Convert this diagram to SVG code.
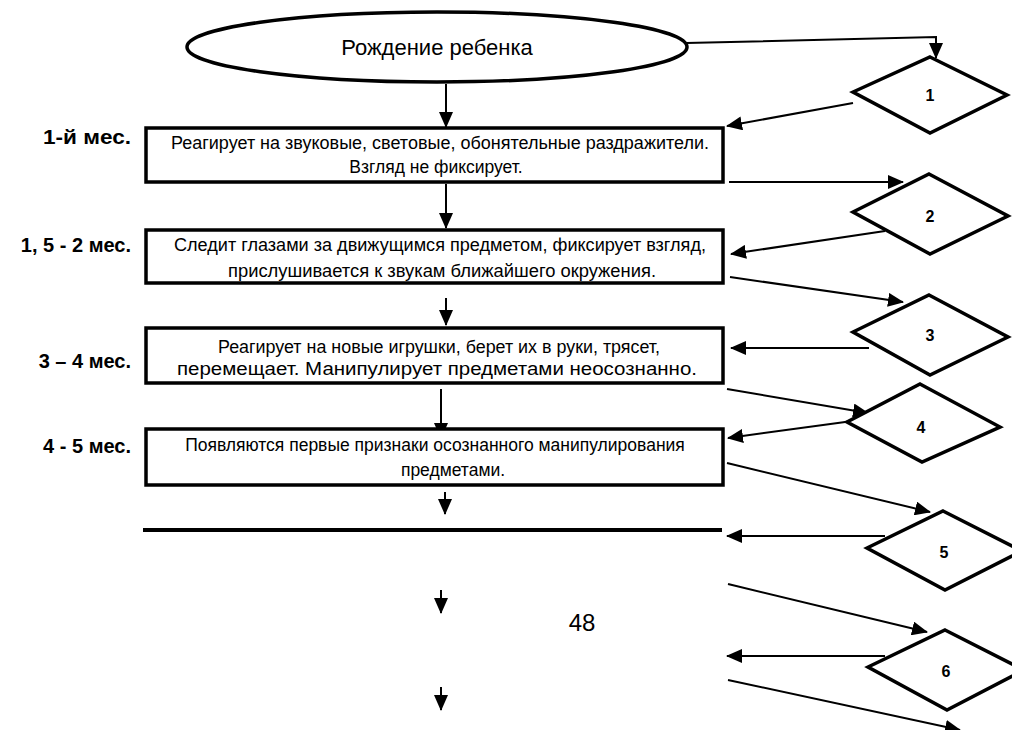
<svg xmlns="http://www.w3.org/2000/svg" width="1012" height="730" viewBox="0 0 1012 730">
  <defs>
    <marker id="ah" markerUnits="userSpaceOnUse" markerWidth="16" markerHeight="14" refX="15" refY="7" orient="auto">
      <path d="M0,0 L16,7 L0,14 Z" fill="#000"/>
    </marker>
    <style>
      .shape { fill: #fff; stroke: #000; stroke-width: 3.5; }
      .conn { fill: none; stroke: #000; stroke-width: 2; marker-end: url(#ah); }
      .txt { font-family: "Liberation Sans", Arial, sans-serif; font-size: 17.5px; fill: #000; text-anchor: middle; }
      .title { font-family: "Liberation Sans", Arial, sans-serif; font-size: 22px; fill: #000; text-anchor: middle; }
      .age { font-family: "Liberation Sans", Arial, sans-serif; font-size: 20px; font-weight: bold; fill: #000; text-anchor: end; }
      .num { font-family: "Liberation Sans", Arial, sans-serif; font-size: 16px; font-weight: bold; fill: #000; text-anchor: middle; }
    </style>
  </defs>
  <rect width="1012" height="730" fill="#fff"/>

  <!-- connectors -->
  <g id="connectors">
    <!-- main vertical flow -->
    <line class="conn" x1="446" y1="84" x2="446" y2="127"/>
    <line class="conn" x1="446" y1="184" x2="446" y2="228"/>
    <line class="conn" x1="446" y1="298" x2="446" y2="325"/>
    <line class="conn" x1="441" y1="389" x2="441" y2="438"/>
    <line class="conn" x1="445" y1="492" x2="445" y2="514"/>
    <line class="conn" x1="441" y1="590" x2="441" y2="613"/>
    <line class="conn" x1="441" y1="687" x2="441" y2="710"/>
    <!-- side loop -->
    <polyline class="conn" points="686,43 936,37 936,58"/>
    <line class="conn" x1="853" y1="103" x2="727" y2="126"/>
    <line class="conn" x1="729" y1="182" x2="903" y2="182"/>
    <line class="conn" x1="885" y1="231" x2="731" y2="254"/>
    <line class="conn" x1="730" y1="277" x2="903" y2="302"/>
    <line class="conn" x1="869" y1="348" x2="731" y2="348"/>
    <line class="conn" x1="727" y1="389" x2="868" y2="413"/>
    <line class="conn" x1="860" y1="420" x2="728" y2="438"/>
    <line class="conn" x1="727" y1="463" x2="930" y2="512"/>
    <line class="conn" x1="885" y1="536" x2="727" y2="536"/>
    <line class="conn" x1="728" y1="584" x2="927" y2="632"/>
    <line class="conn" x1="885" y1="656" x2="727" y2="656"/>
    <line class="conn" x1="728" y1="680" x2="960" y2="730"/>
  </g>

  <!-- start -->
  <g id="start">
    <ellipse class="shape" cx="437" cy="47" rx="250" ry="35"/>
    <text class="title" x="437" y="55">Рождение ребенка</text>
  </g>

  <!-- stages -->
  <g id="stage1">
    <rect class="shape" x="146" y="128" width="577" height="54"/>
    <text class="txt" x="440" y="149" textLength="538" lengthAdjust="spacingAndGlyphs">Реагирует на звуковые, световые, обонятельные раздражители.</text>
    <text class="txt" x="436" y="173">Взгляд не фиксирует.</text>
    <text class="age" x="131" y="144" textLength="88" lengthAdjust="spacingAndGlyphs">1-й мес.</text>
  </g>
  <g id="stage2">
    <rect class="shape" x="146" y="230" width="577" height="53"/>
    <text class="txt" x="440" y="251" textLength="532" lengthAdjust="spacingAndGlyphs">Следит глазами за движущимся предметом, фиксирует взгляд,</text>
    <text class="txt" x="442" y="277" textLength="428" lengthAdjust="spacingAndGlyphs">прислушивается к звукам ближайшего окружения.</text>
    <text class="age" x="131" y="252">1, 5 - 2 мес.</text>
  </g>
  <g id="stage3">
    <rect class="shape" x="146" y="328" width="577" height="55"/>
    <text class="txt" x="439" y="353" textLength="442" lengthAdjust="spacingAndGlyphs">Реагирует на новые игрушки, берет их в руки, трясет,</text>
    <text class="txt" x="437" y="375" font-size="18.5" textLength="520" lengthAdjust="spacingAndGlyphs">перемещает. Манипулирует предметами неосознанно.</text>
    <text class="age" x="131" y="368">3 – 4 мес.</text>
  </g>
  <g id="stage4">
    <rect class="shape" x="146" y="429" width="577" height="56"/>
    <text class="txt" x="435" y="451">Появляются первые признаки осознанного манипулирования</text>
    <text class="txt" x="453" y="476">предметами.</text>
    <text class="age" x="131" y="453">4 - 5 мес.</text>
  </g>
  <g id="divider">
    <line x1="143" y1="530" x2="722" y2="530" stroke="#000" stroke-width="4"/>
  </g>

  <!-- checkpoints -->
  <g id="d1">
    <polygon class="shape" points="930,57 1007,95 930,133 853,92"/>
    <text class="num" x="930" y="101">1</text>
  </g>
  <g id="d2">
    <polygon class="shape" points="929,174 1008,216 930,254 853,212"/>
    <text class="num" x="930" y="222">2</text>
  </g>
  <g id="d3">
    <polygon class="shape" points="929,295 1008,337 930,375 853,332"/>
    <text class="num" x="930" y="341">3</text>
  </g>
  <g id="d4">
    <polygon class="shape" points="920,384 1000,427 922,462 847,422"/>
    <text class="num" x="921" y="433">4</text>
  </g>
  <g id="d5">
    <polygon class="shape" points="943,511 1022,551 945,590 867,548"/>
    <text class="num" x="944" y="558">5</text>
  </g>
  <g id="d6">
    <polygon class="shape" points="945,630 1024,670 947,710 868,667"/>
    <text class="num" x="946" y="677">6</text>
  </g>

  <g id="page">
    <text x="582" y="631" font-family="Liberation Sans, Arial, sans-serif" font-size="24" text-anchor="middle">48</text>
  </g>
</svg>
